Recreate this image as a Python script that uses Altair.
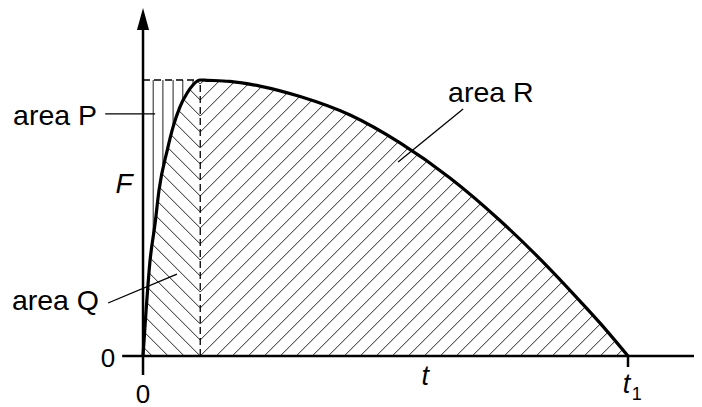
import altair as alt
import pandas as pd
import numpy as np

# ---- data (t in units of t1, F in units of F_max) ----
curve_t = [0.0, 0.006, 0.014, 0.025, 0.033, 0.050, 0.062, 0.076, 0.091, 0.103, 0.118,
           0.132, 0.179, 0.241, 0.324, 0.427, 0.530, 0.633, 0.736, 0.839, 0.901,
           0.942, 1.0]
curve_F = [0.0, 0.156, 0.337, 0.482, 0.601, 0.746, 0.830, 0.902, 0.953, 0.982, 1.0,
           0.999, 0.995, 0.978, 0.940, 0.873, 0.772, 0.645, 0.491, 0.315, 0.199,
           0.120, 0.0]
t_peak = 0.118
p_lines_t = [0.021, 0.041, 0.062, 0.082, 0.103]   # vertical hatch in area P

# ---- layout ----
W, H = 686, 391
X_DOM = [-0.2784, 1.1361]
Y_DOM = [-0.1558, 1.2609]
PX_T = W / (X_DOM[1] - X_DOM[0])
PX_F = H / (Y_DOM[1] - Y_DOM[0])
SP = 16.0  # hatch spacing (px)
dT, dF = SP / PX_T, SP / PX_F
slope = PX_T / PX_F

xs = alt.Scale(domain=X_DOM, nice=False, zero=False)
ys = alt.Scale(domain=Y_DOM, nice=False, zero=False)


def fc(t):
    return np.interp(t, curve_t, curve_F)


def cross(ts, fl):
    d = fl - fc(ts)
    i = int(np.argmax(d >= 0))
    if i == 0:
        return ts[0], fl[0]
    a = d[i - 1] / (d[i - 1] - d[i])
    return ts[i - 1] + a * (ts[i] - ts[i - 1]), fl[i - 1] + a * (fl[i] - fl[i - 1])


segs = []
# area R: "/" hatching
for k in range(-60, 18):
    if k >= 0:
        t0, f0 = t_peak, k * dF
    else:
        t0, f0 = t_peak - k * dT, 0.0
    if t0 >= 1.0 or f0 >= fc(t0):
        continue
    ts = np.linspace(t0, 1.0, 4000)
    fl = f0 + (ts - t0) * slope
    t1, f1 = cross(ts, fl)
    segs.append((t0, f0, t1, f1))
# area Q: "\" hatching
for k in range(0, 18):
    t0, f0 = t_peak, k * dF
    ts = np.linspace(t0, 0.0, 4000)
    fl = f0 + (t0 - ts) * slope
    t1, f1 = cross(ts, fl)
    segs.append((t0, f0, t1, f1))
j = 1
while t_peak - j * dT > 0:
    t0, f0 = t_peak - j * dT, 0.0
    ts = np.linspace(t0, 0.0, 4000)
    fl = f0 + (t0 - ts) * slope
    t1, f1 = cross(ts, fl)
    segs.append((t0, f0, t1, f1))
    j += 1
# area P: vertical hatching
for tp in p_lines_t:
    segs.append((tp, 1.0, tp, float(fc(tp))))

hatch_df = pd.DataFrame(segs, columns=["x", "y", "x2", "y2"])
dash_df = pd.DataFrame({"x": [0.0, t_peak], "y": [1.0, 0.0],
                        "x2": [t_peak, t_peak], "y2": [1.0, 1.0]})
axis_df = pd.DataFrame({"x": [0.0, -0.043, 1.0], "y": [-0.069, 0.0, 0.0],
                        "x2": [0.0, X_DOM[1], 1.0], "y2": [1.19, 0.0, -0.04]})
leader_df = pd.DataFrame({"x": [-0.078, -0.072, 0.660],
                          "y": [0.877, 0.192, 0.895],
                          "x2": [0.025, 0.070, 0.526],
                          "y2": [0.877, 0.297, 0.703]})
curve_df = pd.DataFrame({"x": curve_t, "y": curve_F})
arrow_df = pd.DataFrame({"x": [0.0], "y": [1.221]})


def rules(df, **kw):
    return alt.Chart(df).mark_rule(**kw).encode(
        x=alt.X("x:Q", scale=xs, axis=None),
        y=alt.Y("y:Q", scale=ys, axis=None),
        x2="x2:Q", y2="y2:Q")


def label(txt, x, y, align="left", italic=False, size=26):
    return alt.Chart(pd.DataFrame({"x": [x], "y": [y], "s": [txt]})).mark_text(
        align=align, baseline="alphabetic", font="Liberation Sans", fontSize=size,
        fontStyle="italic" if italic else "normal", color="black").encode(
        x=alt.X("x:Q", scale=xs, axis=None),
        y=alt.Y("y:Q", scale=ys, axis=None),
        text="s:N")


layers = [
    rules(hatch_df, color="#222222", strokeWidth=1),
    rules(dash_df, color="black", strokeWidth=1.3, strokeDash=[7, 4]),
    rules(leader_df, color="black", strokeWidth=1.3),
    alt.Chart(curve_df).mark_line(color="black", strokeWidth=3.2,
                                  interpolate="monotone", strokeCap="round").encode(
        x=alt.X("x:Q", scale=xs, axis=None), y=alt.Y("y:Q", scale=ys, axis=None)),
    rules(axis_df, color="black", strokeWidth=2.5),
    alt.Chart(arrow_df).mark_point(shape="M0,-1L0.55,1L-0.55,1Z", size=484, filled=True,
                                   color="black", opacity=1, strokeWidth=0).encode(
        x=alt.X("x:Q", scale=xs, axis=None), y=alt.Y("y:Q", scale=ys, axis=None)),
    label("area P", -0.0948, 0.837, align="right", size=28.5),
    label("area Q", -0.0907, 0.167, align="right", size=28.5),
    label("area R", 0.629, 0.920, align="left", size=28.5),
    label("F", -0.039, 0.591, align="center", italic=True, size=28),
    label("0", -0.072, -0.040, align="center"),
    label("0", 0.0, -0.170, align="center"),
    label("t", 0.582, -0.105, align="center", italic=True, size=27),
    label("t", 0.997, -0.134, align="center", italic=True, size=27),
    label("1", 1.018, -0.159, align="center", size=18),
]

chart = alt.layer(*layers).properties(
    width=W, height=H, autosize=alt.AutoSizeParams(type="none"),
    padding={"left": 0, "top": 0, "right": 0, "bottom": 8}
).configure_view(stroke=None)

chart.save("out.html", embed_options={"renderer": "svg", "actions": False})
